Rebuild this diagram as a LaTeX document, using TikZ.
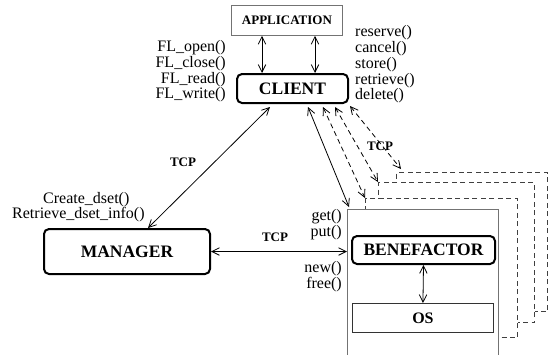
\documentclass[tikz,border=0pt]{standalone}
\usepackage{fontspec}
\setmainfont{Liberation Serif}
\usetikzlibrary{arrows.meta,calc}
\begin{document}
\begin{tikzpicture}[x=1pt,y=-1pt,
  lbl/.style={inner sep=0pt, font=\fontsize{16}{15.7}\selectfont},
  tcp/.style={inner sep=1pt, font=\fontsize{13}{13}\selectfont\bfseries},
  rbox/.style={draw, line width=2pt, rounded corners=5pt, inner sep=0pt, anchor=north west, font=\fontsize{17.5}{17.5}\selectfont\bfseries},
  pbox/.style={draw=black!55, line width=0.9pt, inner sep=0pt, anchor=north west, fill=white},
  dbox/.style={draw=black!75, line width=1pt, dash pattern=on 5pt off 3.5pt, fill=white, inner sep=0pt, anchor=north west},
  arr/.style={{Straight Barb[length=7.5pt,width=7.5pt]}-{Straight Barb[length=7.5pt,width=7.5pt]}, line width=0.8pt},
  darr/.style={arr, dash pattern=on 5pt off 3.5pt},
]
\useasboundingbox (0,0) rectangle (549,354);
\clip (0,0) rectangle (549,354);
\fill[white] (0,0) rectangle (549,354);

% boxes
\node[pbox, minimum width=111pt, minimum height=30pt, font=\fontsize{13}{13}\selectfont\bfseries] (app) at (231,5) {APPLICATION};
\node[rbox, minimum width=111pt, minimum height=29pt] (client) at (236,73) {CLIENT};
\node[rbox, minimum width=166pt, minimum height=45pt] (manager) at (43,228) {MANAGER};

\node[dbox, minimum width=151pt, minimum height=139pt] (box3) at (396,172) {};
\node[dbox, minimum width=156pt, minimum height=140pt] (box2) at (378,182) {};
\node[dbox, minimum width=152pt, minimum height=139pt] (box1) at (365,198) {};
\node[pbox, line width=1.2pt, minimum width=151pt, minimum height=170pt] (benouter) at (347,209) {};
\node[rbox, minimum width=143pt, minimum height=28pt] (benef) at (351,235) {BENEFACTOR};
\node[pbox, draw=black!80, minimum width=141pt, minimum height=29pt, font=\fontsize{16}{16}\selectfont\bfseries] (os) at (352,303) {OS};

% labels
\node[lbl, align=right, anchor=east] (fl) at (226,71.5) {FL\_open()\\FL\_close()\\FL\_read()\\FL\_write()};
\node[lbl, align=left, anchor=west] (cl) at (355,64.5) {reserve()\\cancel()\\store()\\retrieve()\\delete()};
\node[lbl, anchor=west] (cd) at (43,200) {Create\_dset()};
\node[lbl, anchor=west] (rd) at (12,215) {Retrieve\_dset\_info()};
\node[lbl, align=right, anchor=east] (gp) at (342,224.5) {get()\\put()};
\node[lbl, align=right, anchor=east] (nf) at (342,276.5) {new()\\free()};
\node[tcp] (t1) at (183,162) {TCP};
\node[tcp] (t2) at (275,237) {TCP};
\node[tcp] (t3) at (380,146) {TCP};

% connectors
\draw[arr] ($(app.south west)+(31,0)$) -- ($(client.north west)+(26,0)$);
\draw[arr] ($(app.south west)+(84,0)$) -- ($(client.north west)+(79,0)$);
\draw[arr] ($(manager.north west)+(105,0)$) -- ($(client.south west)+(34,3)$);
\draw[arr] (manager.east) -- (benouter.west |- manager.east);
\draw[arr] ($(client.south west)+(72,3)$) -- ($(benouter.north west)+(2,-2)$);
\draw[darr] ($(client.south west)+(87,3)$) -- (box1.north west);
\draw[darr] ($(client.south west)+(99,3)$) -- (box2.north west);
\draw[darr] ($(client.south west)+(114,2)$) -- ($(box3.north west)+(5,-3)$);
\draw[arr] (benef.south) -- (os.north);
\end{tikzpicture}
\end{document}
